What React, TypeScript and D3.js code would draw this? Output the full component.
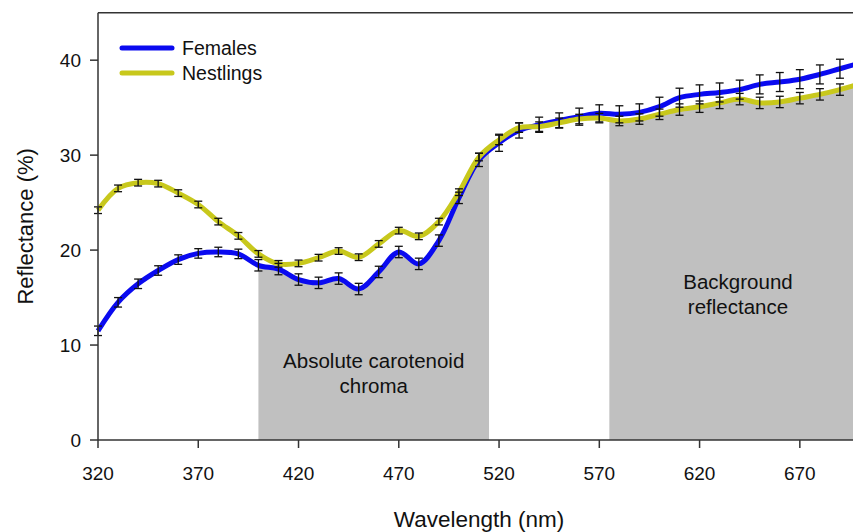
import React from "react";
import * as d3 from "d3";

const wavelengths = [320, 330, 340, 350, 360, 370, 380, 390, 400, 410, 420, 430, 440, 450, 460, 470, 480, 490, 500, 510, 520, 530, 540, 550, 560, 570, 580, 590, 600, 610, 620, 630, 640, 650, 660, 670, 680, 690, 700];
const females = [11.5, 14.5, 16.45, 17.85, 19.0, 19.65, 19.8, 19.6, 18.4, 18.0, 16.9, 16.55, 17.0, 15.9, 17.7, 19.8, 18.55, 21.0, 25.5, 29.5, 31.3, 32.6, 33.2, 33.65, 34.05, 34.4, 34.3, 34.5, 35.1, 36.05, 36.4, 36.6, 36.9, 37.45, 37.7, 38.0, 38.5, 39.1, 39.7];
const nestlings = [24.2, 26.5, 27.1, 27.0, 26.0, 24.8, 23.0, 21.5, 19.6, 18.55, 18.6, 19.2, 19.9, 19.25, 20.65, 22.05, 21.45, 23.0, 26.1, 29.8, 31.6, 32.9, 33.0, 33.4, 33.8, 33.9, 33.6, 33.8, 34.3, 34.8, 35.1, 35.5, 35.9, 35.5, 35.6, 36.0, 36.4, 36.9, 37.5];
const femalesErr = [0.5, 0.5, 0.5, 0.5, 0.5, 0.5, 0.5, 0.5, 0.6, 0.6, 0.6, 0.6, 0.6, 0.6, 0.6, 0.6, 0.6, 0.6, 0.6, 0.7, 0.9, 0.8, 0.8, 0.8, 0.9, 0.9, 0.9, 0.9, 1.0, 1.0, 1.0, 1.0, 1.0, 1.0, 1.0, 1.0, 1.0, 1.0, 1.0];
const nestlingsErr = [0.35, 0.35, 0.35, 0.35, 0.35, 0.35, 0.35, 0.35, 0.35, 0.35, 0.35, 0.35, 0.35, 0.35, 0.35, 0.35, 0.35, 0.35, 0.35, 0.4, 0.5, 0.5, 0.5, 0.5, 0.5, 0.5, 0.5, 0.55, 0.55, 0.6, 0.6, 0.6, 0.6, 0.6, 0.6, 0.6, 0.6, 0.6, 0.6];
const xTicks = [320, 370, 420, 470, 520, 570, 620, 670];
const yTicks = [0, 10, 20, 30, 40];
const chromaRange = [400, 515];
const backgroundRange = [575, 700];
const seriesNames = ["Females", "Nestlings"];

const FONT = "'Liberation Sans', Arial, sans-serif";
const BLUE = "#0a0af0";
const YELLOW = "#c8c81c";
const GRAY = "#c0c0c0";
const AXIS = "#333333";
const TEXT = "#111111";

export default function App() {
  const left = 98, right = 860, top = 12.7, bottom = 440;
  const x = d3.scaleLinear().domain([320, 700]).range([left, right]);
  const y = d3.scaleLinear().domain([0, 45]).range([bottom, top]);

  const fPts = wavelengths.map((w, i) => [w, females[i]] as [number, number]);
  const nPts = wavelengths.map((w, i) => [w, nestlings[i]] as [number, number]);

  const curve = d3.curveCatmullRom.alpha(0.5);
  const line = d3.line<[number, number]>().x(d => x(d[0])).y(d => y(d[1])).curve(curve);
  const area = d3.area<[number, number]>().x(d => x(d[0])).y0(y(0)).y1(d => y(d[1])).curve(curve);

  const errBars = (vals: number[], errs: number[], key: string) =>
    wavelengths.map((w, i) => {
      const cx = x(w);
      const y1 = y(vals[i] + errs[i]);
      const y2 = y(vals[i] - errs[i]);
      return (
        <g key={key + w} stroke="#111" strokeWidth={1.3}>
          <line x1={cx} x2={cx} y1={y1} y2={y2} />
          <line x1={cx - 4} x2={cx + 4} y1={y1} y2={y1} />
          <line x1={cx - 4} x2={cx + 4} y1={y2} y2={y2} />
        </g>
      );
    });

  return (
    <svg width={853} height={532} style={{ position: "absolute", left: 0, top: 0, background: "#fff" }} fontFamily={FONT}>
      <defs>
        <clipPath id="clipChroma">
          <rect x={x(chromaRange[0])} y={top} width={x(chromaRange[1]) - x(chromaRange[0])} height={bottom - top} />
        </clipPath>
        <clipPath id="clipBg">
          <rect x={x(backgroundRange[0])} y={top} width={x(backgroundRange[1]) - x(backgroundRange[0])} height={bottom - top} />
        </clipPath>
      </defs>

      <path d={area(fPts) || ""} fill={GRAY} clipPath="url(#clipChroma)" />
      <path d={area(nPts) || ""} fill={GRAY} clipPath="url(#clipBg)" />

      <text x={x(457.5)} y={368} fontSize={20.5} textAnchor="middle" fill={TEXT}>Absolute carotenoid</text>
      <text x={x(457.5)} y={393} fontSize={20.5} textAnchor="middle" fill={TEXT}>chroma</text>
      <text x={738} y={289} fontSize={20.5} textAnchor="middle" fill={TEXT}>Background</text>
      <text x={738} y={314} fontSize={20.5} textAnchor="middle" fill={TEXT}>reflectance</text>

      <path d={line(fPts) || ""} fill="none" stroke={BLUE} strokeWidth={5} strokeLinejoin="round" />
      <path d={line(nPts) || ""} fill="none" stroke={YELLOW} strokeWidth={5} strokeLinejoin="round" />

      {errBars(females, femalesErr, "f")}
      {errBars(nestlings, nestlingsErr, "n")}

      {/* frame */}
      <line x1={left} x2={853} y1={top} y2={top} stroke={AXIS} strokeWidth={1.5} />
      <line x1={left} x2={left} y1={top} y2={bottom} stroke={AXIS} strokeWidth={1.5} />
      <line x1={left} x2={853} y1={bottom} y2={bottom} stroke={AXIS} strokeWidth={1.5} />

      {xTicks.map(t => (
        <g key={"xt" + t}>
          <line x1={x(t)} x2={x(t)} y1={bottom} y2={bottom + 8} stroke={AXIS} strokeWidth={1.5} />
          <text x={x(t)} y={bottom + 40} fontSize={19} textAnchor="middle" fill={TEXT}>{t}</text>
        </g>
      ))}
      {yTicks.map(t => (
        <g key={"yt" + t}>
          <line x1={left - 8} x2={left} y1={y(t)} y2={y(t)} stroke={AXIS} strokeWidth={1.5} />
          <text x={left - 17} y={y(t) + 7} fontSize={19} textAnchor="end" fill={TEXT}>{t}</text>
        </g>
      ))}

      <text x={x(510)} y={527} fontSize={22.5} textAnchor="middle" fill={TEXT}>Wavelength (nm)</text>
      <text transform={`translate(33, ${y(22.5)}) rotate(-90)`} fontSize={22} textAnchor="middle" fill={TEXT}>Reflectance (%)</text>

      {/* legend */}
      <line x1={122} x2={172} y1={48} y2={48} stroke={BLUE} strokeWidth={5} strokeLinecap="round" />
      <text x={182} y={55} fontSize={19.5} fill={TEXT}>{seriesNames[0]}</text>
      <line x1={122} x2={172} y1={73} y2={73} stroke={YELLOW} strokeWidth={5} strokeLinecap="round" />
      <text x={182} y={80} fontSize={19.5} fill={TEXT}>{seriesNames[1]}</text>
    </svg>
  );
}
